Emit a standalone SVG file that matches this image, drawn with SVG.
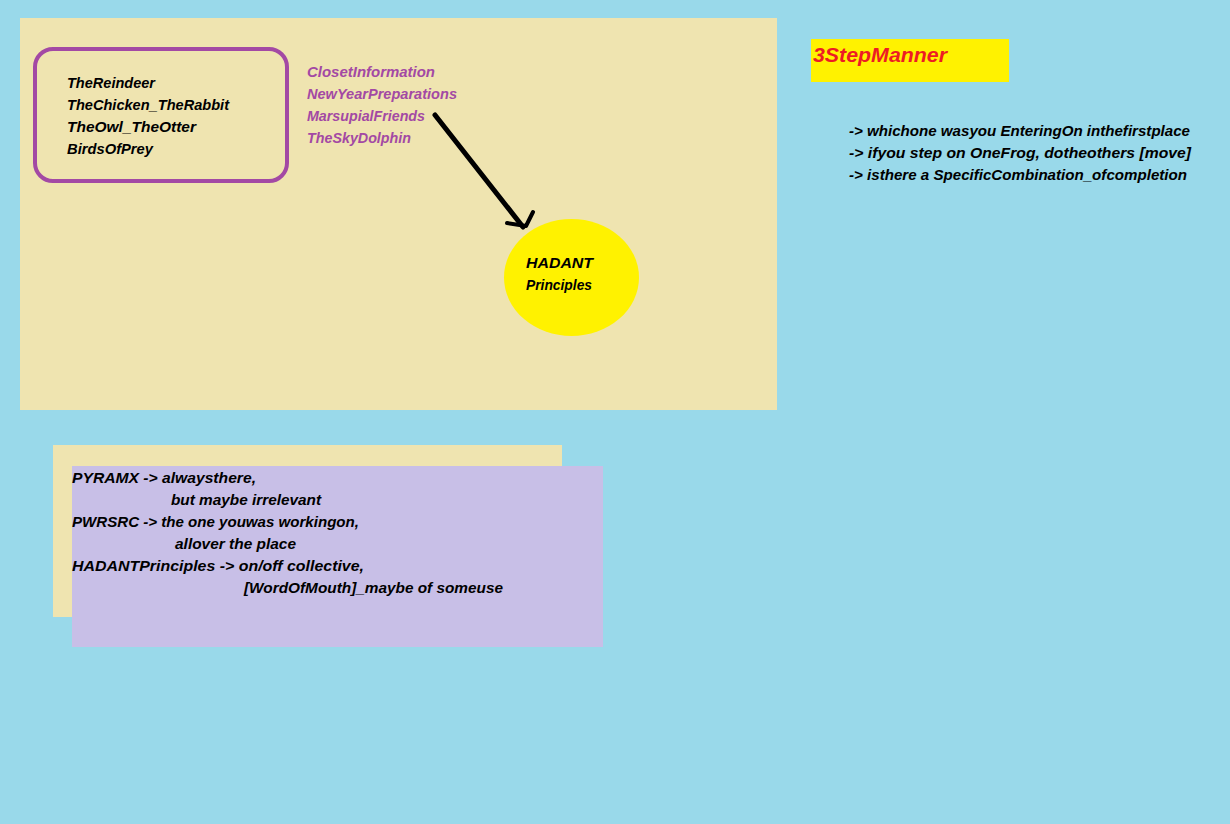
<svg xmlns="http://www.w3.org/2000/svg" width="1230" height="824" viewBox="0 0 1230 824">
<style>
.t{font-family:"Liberation Sans","DejaVu Sans",sans-serif;font-style:italic;font-weight:bold;font-size:15px;fill:#000}
.p{fill:#A349A4}
.r{fill:#ED1C24;font-size:21px}
</style>
<rect x="0" y="0" width="1230" height="824" fill="#99D9EA"/>
<g id="mainArea">
<rect x="20" y="18" width="757" height="392" fill="#EFE4B0"/>
</g>
<g id="animalsBox">
<rect x="35" y="49" width="252" height="132" rx="18" ry="18" fill="none" stroke="#A349A4" stroke-width="4"/>
<text class="t" x="67" y="88" textLength="88" lengthAdjust="spacingAndGlyphs">TheReindeer</text>
<text class="t" x="67" y="110" textLength="162" lengthAdjust="spacingAndGlyphs">TheChicken_TheRabbit</text>
<text class="t" x="67" y="132" textLength="129" lengthAdjust="spacingAndGlyphs">TheOwl_TheOtter</text>
<text class="t" x="67" y="154" textLength="86" lengthAdjust="spacingAndGlyphs">BirdsOfPrey</text>
</g>
<g id="purpleList">
<text class="t p" x="307" y="77" textLength="128" lengthAdjust="spacingAndGlyphs">ClosetInformation</text>
<text class="t p" x="307" y="99" textLength="150" lengthAdjust="spacingAndGlyphs">NewYearPreparations</text>
<text class="t p" x="307" y="121" textLength="118" lengthAdjust="spacingAndGlyphs">MarsupialFriends</text>
<text class="t p" x="307" y="143" textLength="104" lengthAdjust="spacingAndGlyphs">TheSkyDolphin</text>
</g>
<g id="connectors">
<path d="M435 115 L523 227" fill="none" stroke="#000" stroke-width="5" stroke-linecap="round"/>
<path d="M533 212 L526 226 L507 223" fill="none" stroke="#000" stroke-width="4" stroke-linecap="round" stroke-linejoin="round"/>
</g>
<g id="hadant">
<ellipse cx="571.5" cy="277.5" rx="67.5" ry="58.5" fill="#FFF200"/>
<text class="t" x="526" y="268" textLength="67" lengthAdjust="spacingAndGlyphs">HADANT</text>
<text class="t" x="526" y="290" textLength="66" lengthAdjust="spacingAndGlyphs">Principles</text>
</g>
<g id="stepManner">
<rect x="811" y="39" width="198" height="43" fill="#FFF200"/>
<text class="t r" x="813" y="62" textLength="134" lengthAdjust="spacingAndGlyphs">3StepManner</text>
</g>
<g id="stepList">
<text class="t" x="849" y="136" textLength="341" lengthAdjust="spacingAndGlyphs">-&gt; whichone wasyou EnteringOn inthefirstplace</text>
<text class="t" x="849" y="158" textLength="342" lengthAdjust="spacingAndGlyphs">-&gt; ifyou step on OneFrog, dotheothers [move]</text>
<text class="t" x="849" y="180" textLength="338" lengthAdjust="spacingAndGlyphs">-&gt; isthere a SpecificCombination_ofcompletion</text>
</g>
<g id="notes">
<rect x="53" y="445" width="509" height="172" fill="#EFE4B0"/>
<rect x="72" y="466" width="531" height="181" fill="#C8BFE7"/>
<text class="t" x="72" y="483" textLength="184" lengthAdjust="spacingAndGlyphs">PYRAMX -&gt; alwaysthere,</text>
<text class="t" x="171" y="505" textLength="150" lengthAdjust="spacingAndGlyphs">but maybe irrelevant</text>
<text class="t" x="72" y="527" textLength="287" lengthAdjust="spacingAndGlyphs">PWRSRC -&gt; the one youwas workingon,</text>
<text class="t" x="175" y="549" textLength="121" lengthAdjust="spacingAndGlyphs">allover the place</text>
<text class="t" x="72" y="571" textLength="292" lengthAdjust="spacingAndGlyphs">HADANTPrinciples -&gt; on/off collective,</text>
<text class="t" x="244" y="593" textLength="259" lengthAdjust="spacingAndGlyphs">[WordOfMouth]_maybe of someuse</text>
</g>
</svg>
